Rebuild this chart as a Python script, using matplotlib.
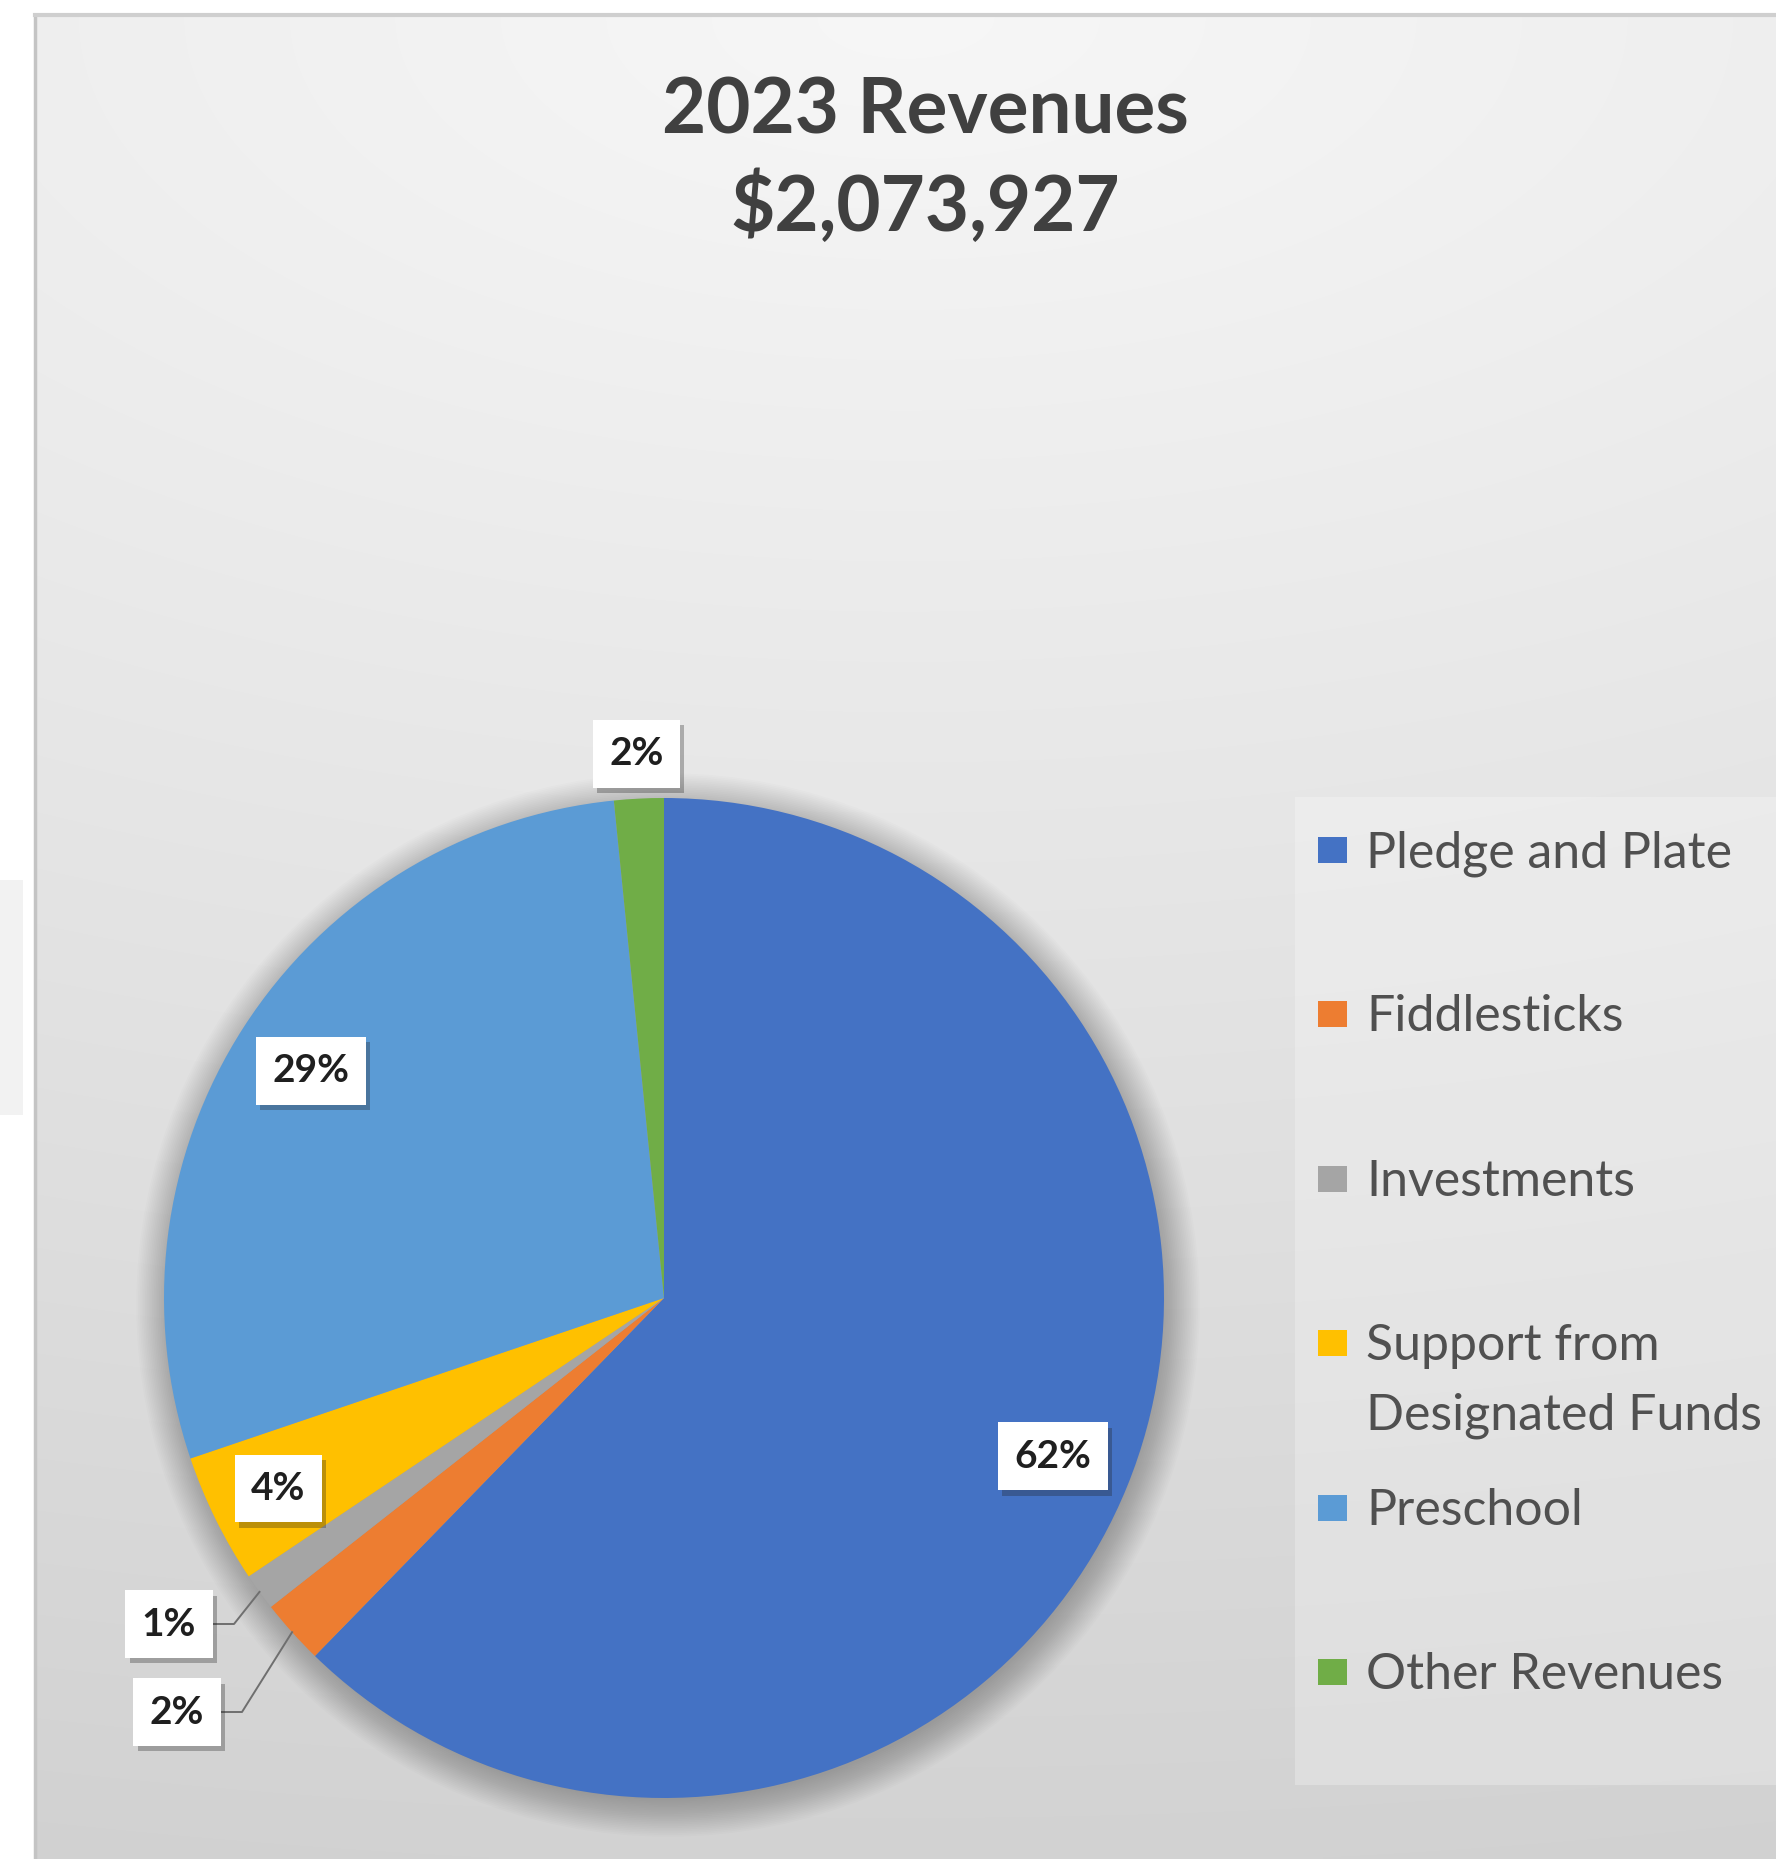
import numpy as np
import matplotlib
matplotlib.use("Agg")
from matplotlib import pyplot as plt
from matplotlib.patches import Rectangle, Circle
import matplotlib.patheffects as pe

plt.rcParams['font.family'] = ['Lato', 'DejaVu Sans']

# Data
title_lines = ["2023 Revenues", "$2,073,927"]
categories = ["Pledge and Plate", "Fiddlesticks", "Investments",
              "Support from\nDesignated Funds", "Preschool", "Other Revenues"]
shares = [62.3, 2.1, 1.2, 4.2, 28.6, 1.6]
colors = ["#4472C4", "#ED7D31", "#A5A5A5", "#FFC000", "#5B9BD5", "#70AD47"]

W, H = 1776, 1859
fig = plt.figure(figsize=(W / 100, H / 100), dpi=100)
fig.patch.set_facecolor("white")

# background axes in pixel coordinates (y down)
bg = fig.add_axes([0, 0, 1, 1])
bg.set_xlim(0, W)
bg.set_ylim(H, 0)
bg.axis('off')

# chart area with soft gradient (light at top, grey at bottom)
cx0, cy0 = 35, 15
yy, xx = np.mgrid[0:1:600j, 0:1:600j]
d = np.sqrt((0.45 * (xx - 0.5)) ** 2 + yy ** 2)
v = 0.968 - 0.158 * np.clip(d, 0, 1.1) / 1.1
rgb = np.dstack([v, v, v])
bg.imshow(rgb, extent=[cx0, W, H, cy0], aspect='auto',
          interpolation='bilinear', zorder=0)
bg.plot([cx0, cx0], [cy0, H], color="#c4c4c4", lw=2.5, zorder=1)
bg.plot([cx0, W], [cy0, cy0], color="#cfcfcf", lw=3, zorder=1)
bg.add_patch(Rectangle((0, 880), 23, 235, facecolor="#f2f2f2", edgecolor="none", zorder=1))

# title
bg.text(925, 133, title_lines[0], fontsize=55, fontweight='bold', color="#404040",
        ha='center', va='baseline', zorder=3)
bg.text(925, 231, title_lines[1], fontsize=55, fontweight='bold', color="#404040",
        ha='center', va='baseline', zorder=3)

# legend (manual, Excel-like)
bg.add_patch(Rectangle((1295, 797), W - 1295, 988, facecolor="white", alpha=0.25,
                       edgecolor="none", zorder=2))
leg_y0, leg_step = 850, 164.4
for i, (lab, col) in enumerate(zip(categories, colors)):
    yc = leg_y0 + i * leg_step
    bg.add_patch(Rectangle((1318, yc - 13), 29, 26, facecolor=col, edgecolor="none", zorder=3))
    for j, line in enumerate(lab.split("\n")):
        bg.text(1366, yc + 17 + j * 69, line, fontsize=36, color="#505050",
                ha='left', va='baseline', zorder=3)

# pie
ax = fig.add_axes([164 / W, (H - 1798) / H, 1000 / W, 1000 / H])
ax.patch.set_alpha(0)

# soft shadow around the pie
for k in range(22):
    ax.add_patch(Circle((0.008, -0.014), 0.99 + 0.0035 * k, facecolor="black",
                        alpha=0.013, edgecolor="none", zorder=0, clip_on=False))

wedges, _ = ax.pie(shares, colors=colors, startangle=90, counterclock=False,
                   radius=1, wedgeprops=dict(linewidth=0, zorder=2))
ax.set_xlim(-1, 1)
ax.set_ylim(-1, 1)
ax.set_aspect('auto')
ax.axis('off')

total = sum(shares)
label_r = [0.84, None, None, 0.86, 0.84, 1.09]
outside = {1: (-0.974, -0.828), 2: (-0.99, -0.652)}

shadow = [pe.withSimplePatchShadow(offset=(3, -4), shadow_rgbFace='#202020', alpha=0.3)]
for i, w in enumerate(wedges):
    mid = np.deg2rad((w.theta1 + w.theta2) / 2)
    pct = "%d%%" % round(shares[i] / total * 100)
    if label_r[i] is not None:
        lx, ly = label_r[i] * np.cos(mid), label_r[i] * np.sin(mid)
    else:
        lx, ly = outside[i]
        ex, ey = np.cos(mid), np.sin(mid)
        ax.plot([lx + 0.08, lx + 0.13, ex], [ly, ly, ey], color="#6f6f6f",
                lw=1.4, zorder=3, clip_on=False)
    t = ax.text(lx, ly, pct, fontsize=28, fontweight='bold', color="#1f1f1f",
                ha='center', va='center', zorder=5, clip_on=False,
                bbox=dict(boxstyle='square,pad=0.42', facecolor='white', edgecolor='none'))
    t.get_bbox_patch().set_path_effects(shadow)

fig.savefig("out.png", dpi=100)
